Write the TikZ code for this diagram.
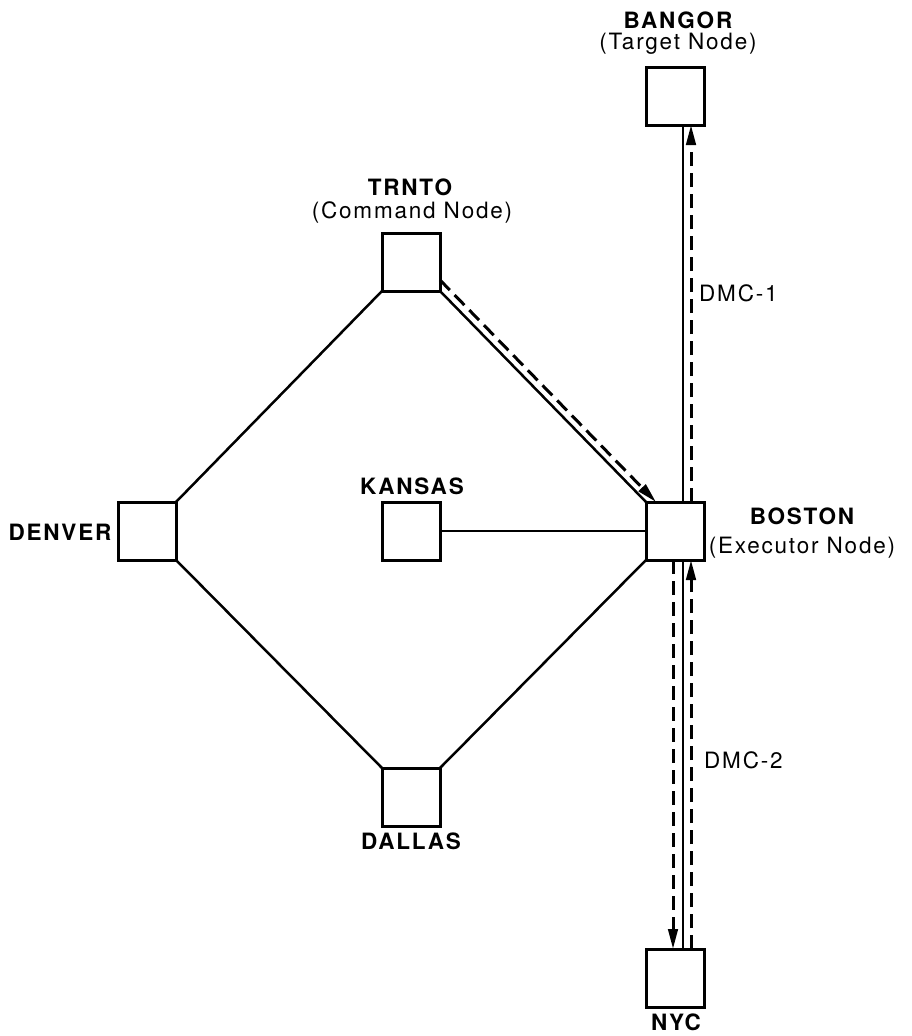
\documentclass[tikz,border=0pt]{standalone}
\usepackage{fontspec}
\setmainfont{TeX Gyre Heros}[LetterSpace=8]
\usetikzlibrary{arrows.meta}
\begin{document}
\begin{tikzpicture}[x=1pt,y=-1pt,
  box/.style={draw, line width=3pt, minimum size=58pt, inner sep=0pt, outer sep=0pt},
  link/.style={line width=2.5pt},
  msg/.style={line width=3pt, dash pattern=on 14pt off 7pt},
  tip/.style={-{Triangle[length=20pt,width=9.5pt]}},
  bold/.style={font=\fontsize{22.5}{26}\selectfont\bfseries, inner sep=0pt},
  plain/.style={font=\fontsize{22.5}{26}\selectfont, inner sep=0pt}]
\useasboundingbox (0,0) rectangle (911,1036);
% boxes
\node[box] (bangor) at (675,96) {};
\node[box] (trnto)  at (411,262) {};
\node[box] (kansas) at (411,531) {};
\node[box] (boston) at (675,531) {};
\node[box] (denver) at (147,531) {};
\node[box] (dallas) at (411,797) {};
\node[box] (nyc)    at (675,978) {};
% labels
\node[bold]  (lbangor) at (678,20) {BANGOR};
\node[plain] (tbangor) at (678,44) {(Target Node)};
\node[bold]  (ltrnto)  at (410,187) {TRNTO};
\node[plain] (ttrnto)  at (412,212) {(Command Node)};
\node[bold]  (lkansas) at (412,486) {KANSAS};
\node[bold]  (ldenver) at (60,532) {DENVER};
\node[bold]  (lboston) at (802,516) {BOSTON};
\node[plain] (tboston) at (802,548) {(Executor Node)};
\node[bold]  (ldallas) at (411,841) {DALLAS};
\node[bold]  (lnyc)    at (676,1022) {NYC};
\node[plain, anchor=west] (dmc1) at (699,293) {DMC-1};
\node[plain, anchor=west] (dmc2) at (704,760) {DMC-2};
% network links
\draw[link] (trnto.south west) -- (denver.north east);
\draw[link] (denver.south east) -- (dallas.north west);
\draw[link] (dallas.north east) -- (boston.south west);
\draw[link] (trnto.south east) -- (boston.north west);
\draw[link] (kansas.east) -- (boston.west);
\draw[link] ([xshift=8pt]boston.north) -- ([xshift=8pt]bangor.south);
\draw[link] ([xshift=8pt]boston.south) -- ([xshift=8pt]nyc.north);
% message flows
\draw[msg,tip] ([yshift=11pt]trnto.south east) -- ([xshift=10pt]boston.north west);
\draw[msg,tip] ([xshift=16pt]boston.north) -- ([xshift=16pt]bangor.south);
\draw[msg,tip] ([xshift=-2pt]boston.south) -- ([xshift=-2pt]nyc.north);
\draw[msg,tip] ([xshift=16pt]nyc.north) -- ([xshift=16pt]boston.south);
\end{tikzpicture}
\end{document}
